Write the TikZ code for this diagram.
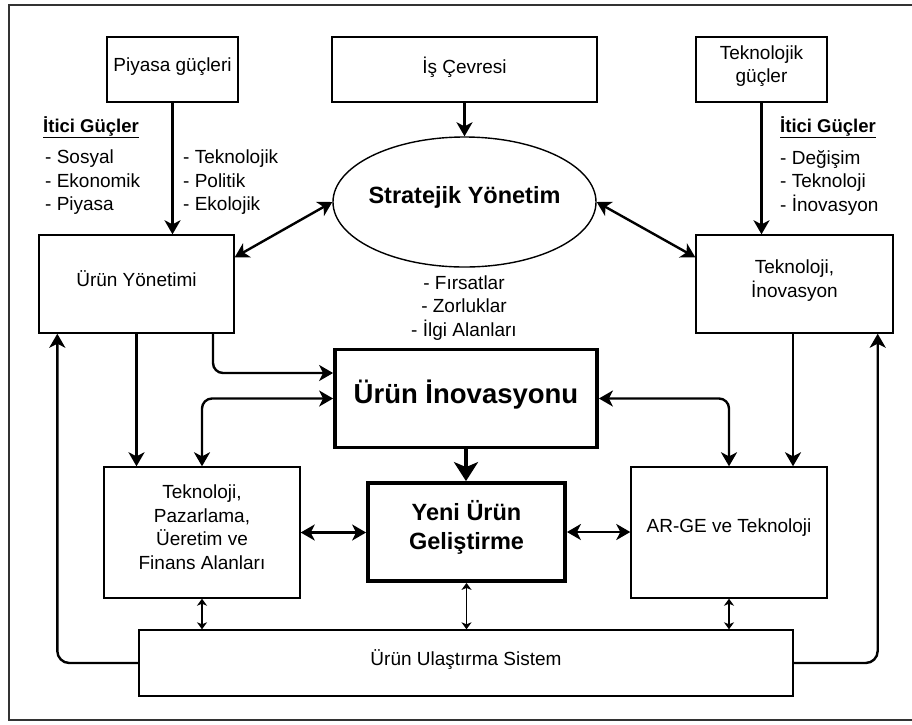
\documentclass[tikz,border=0pt]{standalone}
\usepackage{fontspec}
\setmainfont{Liberation Sans}
\usetikzlibrary{arrows.meta,shapes.geometric}
\begin{document}
\begin{tikzpicture}[x=1pt,y=-1pt,
  box/.style={draw,line width=1.4pt,inner sep=0pt},
  thickbox/.style={draw,line width=3.8pt,inner sep=0pt},
  txt/.style={font=\fontsize{19}{23.5}\selectfont,inner sep=0pt,align=center},
  lst/.style={font=\fontsize{19}{23.5}\selectfont,inner sep=0pt,align=left,anchor=west},
  arr/.style={line width=2.4pt,-{Stealth[length=14pt,width=16pt,inset=4pt]}},
  darr/.style={line width=2.4pt,{Stealth[length=14pt,width=16pt,inset=4pt]}-{Stealth[length=14pt,width=16pt,inset=4pt]}},
  sarr/.style={line width=1.6pt,{Stealth[length=7pt,width=10pt,inset=2pt]}-{Stealth[length=7pt,width=10pt,inset=2pt]}},
  bigarr/.style={line width=4.5pt,-{Stealth[length=19pt,width=24pt,inset=5pt]}}
]
\useasboundingbox (0,0) rectangle (912,724);
\fill[white] (0,0) rectangle (912,724);
\draw[line width=2.4pt,black!80,line join=miter] (915,5) -- (9,5) -- (9,720) -- (915,720);

% boxes
\node[box,minimum width=131pt,minimum height=65pt] (pg) at (172.5,69.5) {};
\node[txt] (pgt) at (172.5,67) {Piyasa güçleri};
\node[box,minimum width=265pt,minimum height=65pt] (is) at (464.5,69.5) {};
\node[txt] (ist) at (464.5,67) {İş Çevresi};
\node[box,minimum width=131pt,minimum height=65pt] (tg) at (761.5,69.5) {};
\node[txt] (tgt) at (761.5,66) {Teknolojik\\güçler};

\node[box,minimum width=195pt,minimum height=98pt] (uy) at (136.5,284) {};
\node[txt] (uyt) at (136.5,279) {Ürün Yönetimi};
\node[box,minimum width=197pt,minimum height=98pt] (ti) at (794.5,284) {};
\node[txt] (tit) at (794.5,280.5) {Teknoloji,\\İnovasyon};

\node[draw,ellipse,line width=1.4pt,inner sep=0pt,minimum width=263pt,minimum height=130pt] (ell) at (464.5,202) {};
\node[txt,font=\bfseries\fontsize{23.5}{28}\selectfont] (ellt) at (464.5,197) {Stratejik Yönetim};

\node[thickbox,minimum width=262pt,minimum height=98pt] (ui) at (466,398.5) {};
\node[txt,font=\bfseries\fontsize{27.5}{32}\selectfont] (uit) at (466,395) {Ürün İnovasyonu};
\node[thickbox,minimum width=197pt,minimum height=98pt] (yu) at (466.5,532) {};
\node[txt,font=\bfseries\fontsize{23.5}{29}\selectfont] (yut) at (466.5,527.5) {Yeni Ürün\\Geliştirme};

\node[box,minimum width=196pt,minimum height=131pt] (tp) at (202,532.5) {};
\node[txt] (tpt) at (202,527) {Teknoloji,\\Pazarlama,\\Üeretim ve\\Finans Alanları};
\node[box,minimum width=196pt,minimum height=131pt] (ar) at (729,532.5) {};
\node[txt] (art) at (729,528) {AR-GE ve Teknoloji};

\node[box,minimum width=654pt,minimum height=66pt] (us) at (466,663) {};
\node[txt] (ust) at (466,660) {Ürün Ulaştırma Sistem};

% free texts
\node[lst,font=\bfseries\fontsize{18.5}{23}\selectfont] (ic1) at (43,127) {\underline{İtici Güçler}};
\node[lst] (l1) at (45,182.5) {- Sosyal\\- Ekonomik\\- Piyasa};
\node[lst] (l2) at (183,182.5) {- Teknolojik\\- Politik\\- Ekolojik};
\node[lst,font=\bfseries\fontsize{18.5}{23}\selectfont] (ic2) at (780,127) {\underline{İtici Güçler}};
\node[lst] (l3) at (780,182.5) {- Değişim\\- Teknoloji\\- İnovasyon};
\node[txt] (fr) at (464,308) {- Fırsatlar\\- Zorluklar\\- İlgi Alanları};

% connectors
\draw[arr] (pg.south) -- (uy.north -| pg.south);
\draw[arr] (is.south) -- (ell.north);
\draw[arr] (tg.south) -- (ti.north -| tg.south);
\draw[darr] ([yshift=-23pt]uy.north east) -- (ell.west);
\draw[darr] (ell.east) -- ([yshift=-23pt]ti.north west);
\draw[arr] (uy.south) -- (uy.south |- tp.north);
\draw[arr,rounded corners=10pt] ([xshift=76.5pt]uy.south) |- ([yshift=25.5pt]ui.west);
\draw[darr,rounded corners=10pt] (ui.west) -| (tp.north);
\draw[darr,rounded corners=10pt] (ui.east) -| (ar.north);
\draw[arr] ([xshift=-1.5pt]ti.south) -- ([xshift=-1.5pt]ti.south |- ar.north);
\draw[darr] (tp.east) -- (tp.east -| yu.west);
\draw[darr] (yu.east) -- (yu.east -| ar.west);
\draw[bigarr] (ui.south) -- (ui.south |- yu.north);
\draw[sarr] (tp.south) -- (tp.south |- us.north);
\draw[sarr] (yu.south) -- (yu.south |- us.north);
\draw[sarr] (ar.south) -- (ar.south |- us.north);
\draw[arr,rounded corners=12pt] (us.west) -| ([xshift=19pt]uy.south west);
\draw[arr,rounded corners=12pt] (us.east) -| ([xshift=-16pt]ti.south east);
\end{tikzpicture}
\end{document}
